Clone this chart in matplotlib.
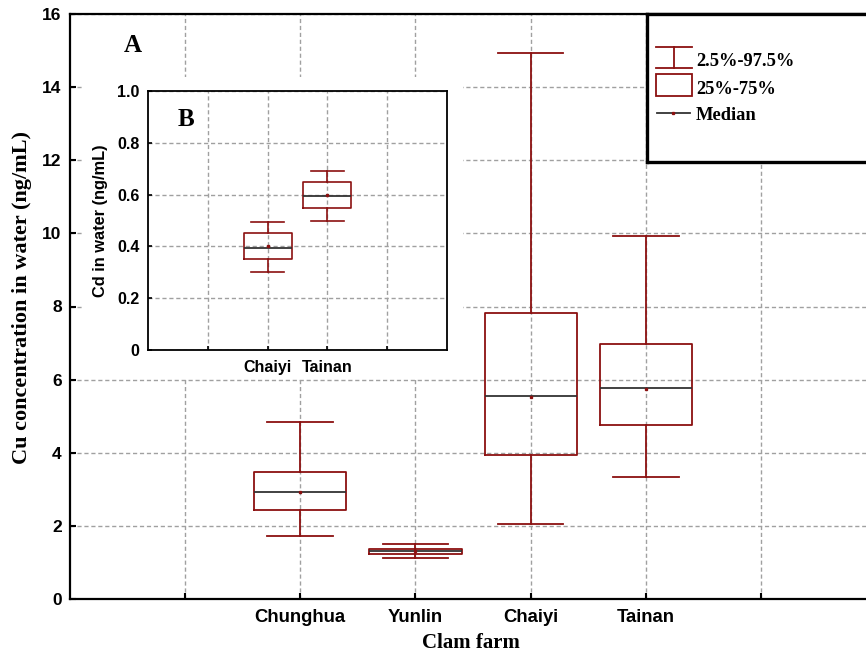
import matplotlib
matplotlib.use("Agg")
import matplotlib.pyplot as plt
from matplotlib.patches import Rectangle

# ---- data (main panel A: Cu) ----
categories = ["Chunghua", "Yunlin", "Chaiyi", "Tainan"]
p2_5 = [1.73, 1.12, 2.06, 3.35]
p25 = [2.44, 1.23, 3.94, 4.77]
median = [2.94, 1.30, 5.55, 5.77]
p75 = [3.46, 1.37, 7.81, 6.98]
p97_5 = [4.84, 1.51, 14.93, 9.94]
means = [2.92, 1.30, 5.53, 5.74]

# ---- data (inset panel B: Cd) ----
cd_categories = ["Chaiyi", "Tainan"]
cd_p2_5 = [0.30, 0.50]
cd_p25 = [0.35, 0.55]
cd_median = [0.395, 0.596]
cd_p75 = [0.45, 0.649]
cd_p97_5 = [0.493, 0.69]
cd_means = [0.40, 0.60]

main_yticks = [0, 2, 4, 6, 8, 10, 12, 14, 16]
cd_yticks = [0, 0.2, 0.4, 0.6, 0.8, 1.0]
cd_yticklabels = ["0", "0.2", "0.4", "0.6", "0.8", "1.0"]

RED = "#8B1010"
GRID = "#a0a0a0"
SERIF = "Liberation Serif"
SANS = "Liberation Sans"

W, H = 866, 655
fig = plt.figure(figsize=(W / 100, H / 100), dpi=100)


def fx(px):
    return px / W


def fy(py):
    return 1 - py / H


def stats(lo, q1, med, q3, hi, mn, labels):
    out = []
    for a, b, c, d, e, m, l in zip(lo, q1, med, q3, hi, mn, labels):
        out.append(dict(whislo=a, q1=b, med=c, q3=d, whishi=e, mean=m,
                        fliers=[], label=l))
    return out


def style_box(ax, st, positions, lw, capw):
    ax.bxp(st, positions=positions, widths=0.8, capwidths=capw,
           showmeans=True, showfliers=False, patch_artist=False,
           boxprops=dict(color=RED, linewidth=lw),
           whiskerprops=dict(color=RED, linewidth=lw),
           capprops=dict(color=RED, linewidth=lw),
           medianprops=dict(color="#333333", linewidth=1.3),
           meanprops=dict(marker="s", markersize=1.4, markerfacecolor=RED,
                          markeredgecolor=RED),
           manage_ticks=False, zorder=3)


# ---- main axes ----
ax = fig.add_axes([fx(70), fy(599), fx(866 - 70) + 0.001, fy(14) - fy(599)])
ax.set_zorder(0)
ax.set_xlim(0, 6.92)
ax.set_ylim(0, 16)
pos = [2, 3, 4, 5]
style_box(ax, stats(p2_5, p25, median, p75, p97_5, means, categories), pos, 1.3, 0.57)
ax.set_xticks([1, 2, 3, 4, 5, 6])
ax.set_xticklabels([""] + categories + [""], fontfamily=SANS,
                   fontweight="bold", fontsize=13.3)
ax.set_yticks(main_yticks)
ax.set_yticklabels([str(v) for v in main_yticks], fontfamily=SANS,
                   fontweight="bold", fontsize=12.5)
ax.tick_params(direction="in", length=4, width=1.5, pad=6)
ax.tick_params(axis="x", pad=7)
ax.grid(True, linestyle=(0, (3, 2)), color=GRID, linewidth=1.0)
ax.set_axisbelow(True)
for s in ["left", "bottom", "top"]:
    ax.spines[s].set_linewidth(1.6)
ax.spines["right"].set_visible(False)
ax.text((133 - 70) / 796, (599 - 45) / 585, "A", transform=ax.transAxes,
        ha="center", va="center", fontfamily=SERIF, fontweight="bold",
        fontsize=18)

fig.text(fx(22), fy(298), "Cu concentration in water (ng/mL)", rotation=90,
         ha="center", va="center", fontfamily=SERIF, fontweight="bold",
         fontsize=16)
fig.text(fx(471), fy(643), "Clam farm", ha="center", va="center",
         fontfamily=SERIF, fontweight="bold", fontsize=15)

# ---- white area behind inset ----
bg = Rectangle((fx(82), fy(378)), fx(463 - 82), fy(77) - fy(378),
               transform=fig.transFigure, facecolor="white", edgecolor="none",
               zorder=1)
fig.add_artist(bg)

# ---- inset axes ----
ins = fig.add_axes([fx(148), fy(350), fx(447 - 148), fy(91) - fy(350)])
ins.set_zorder(2)
ins.set_xlim(0, 5)
ins.set_ylim(0, 1)
style_box(ins, stats(cd_p2_5, cd_p25, cd_median, cd_p75, cd_p97_5, cd_means,
                     cd_categories), [2, 3], 1.2, 0.55)
ins.set_xticks([1, 2, 3, 4])
ins.set_xticklabels([""] + cd_categories + [""], fontfamily=SANS,
                    fontweight="bold", fontsize=11.5)
ins.set_yticks(cd_yticks)
ins.set_yticklabels(cd_yticklabels, fontfamily=SANS, fontweight="bold",
                    fontsize=11.5)
ins.tick_params(direction="in", length=3, width=1.2, pad=6)
ins.tick_params(axis="x", pad=7)
ins.grid(True, linestyle=(0, (3, 2)), color=GRID, linewidth=1.0)
ins.set_axisbelow(True)
for s in ins.spines.values():
    s.set_linewidth(1.3)
ins.text((186 - 148) / 299, (350 - 120) / 259, "B", transform=ins.transAxes,
         ha="center", va="center", fontfamily=SERIF, fontweight="bold",
         fontsize=18)
fig.text(fx(101), fy(221), "Cd in water (ng/mL)", rotation=90, ha="center",
         va="center", fontfamily=SANS, fontweight="bold", fontsize=11.8)

# ---- legend box ----
lg = fig.add_axes([fx(647), fy(162), fx(240), fy(14) - fy(162)])
lg.set_zorder(3)
lg.set_xlim(0, 240)
lg.set_ylim(148, 0)
lg.set_xticks([])
lg.set_yticks([])
lg.set_facecolor("white")
for s in lg.spines.values():
    s.set_linewidth(2.4)
lg.plot([9, 45], [33, 33], color=RED, lw=1.3)
lg.plot([9, 45], [54, 54], color=RED, lw=1.3)
lg.plot([27, 27], [33, 54], color=RED, lw=1.3)
lg.add_patch(Rectangle((9, 60), 36, 22, facecolor="none", edgecolor=RED, lw=1.3))
lg.plot([10, 43], [99, 99], color="#333333", lw=1.3)
lg.plot([26], [99], marker="s", markersize=1.4, color=RED)
for yy, t in [(47, "2.5%-97.5%"), (75, "25%-75%"), (102, "Median")]:
    lg.text(49, yy, t, ha="left", va="center", fontfamily=SERIF,
            fontweight="bold", fontsize=13.3)

fig.savefig("out.png", dpi=100)
